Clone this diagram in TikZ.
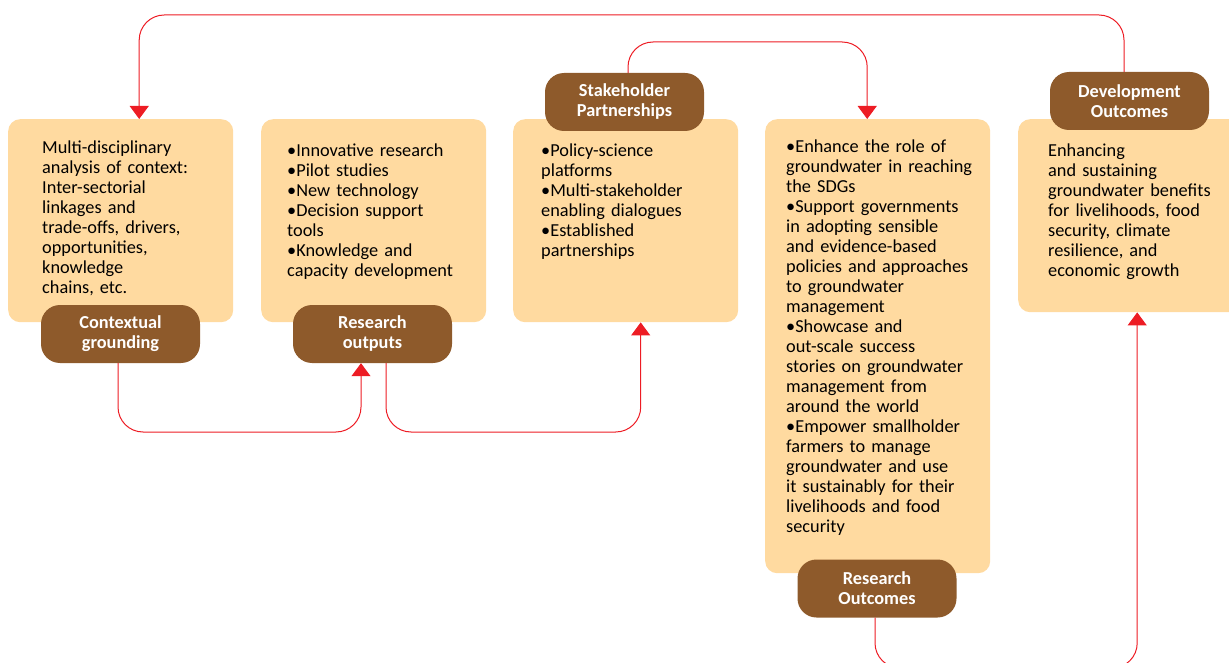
\documentclass[tikz,border=0pt]{standalone}
\usepackage{fontspec}
\setmainfont{Carlito}
\usetikzlibrary{arrows.meta,positioning}
\definecolor{boxfill}{HTML}{FFDAA0}
\definecolor{tagbrown}{HTML}{8E5A2B}
\definecolor{linkred}{HTML}{ED1C24}
\tikzset{
panel/.style={fill=boxfill,rounded corners=12pt,inner sep=0pt,anchor=north west,minimum width=225pt},
tag/.style={fill=tagbrown,text=white,font=\fontsize{18.3}{20}\selectfont\bfseries,rounded corners=19pt,minimum width=159pt,minimum height=58pt,align=center,inner sep=0pt},
body/.style={anchor=base west,align=left,inner sep=0pt,text width=#1,font=\fontsize{18.3}{20}\selectfont},
link/.style={draw=linkred,line width=1pt,rounded corners=25pt,-{Triangle[width=19pt,length=13pt]}}
}
\begin{document}
\begin{tikzpicture}[x=1pt,y=-1pt]
\useasboundingbox (0,0) rectangle (1229,663);
\clip (0,0) rectangle (1229,663);

\node[panel,minimum height=203pt] (ctxbox) at (8,119) {};
\node[panel,minimum height=203pt] (outbox) at (261,119) {};
\node[panel,minimum height=203pt] (partbox) at (513,119) {};
\node[panel,minimum height=454pt] (outcbox) at (765,119) {};
\node[panel,minimum height=193pt] (devbox) at (1018,119) {};

\node[body=190pt] (ctxtext) at (42,154) {Multi-disciplinary\\analysis of context:\\Inter-sectorial\\linkages and\\trade-offs, drivers,\\opportunities,\\knowledge\\chains, etc.};
\node[body=195pt] (outtext) at (287,157) {•Innovative research\\•Pilot studies\\•New technology\\•Decision support\\tools\\•Knowledge and\\capacity development};
\node[body=195pt] (parttext) at (541,157) {•Policy-science\\platforms\\•Multi-stakeholder\\enabling dialogues\\•Established\\partnerships};
\node[body=200pt] (outctext) at (786,153) {•Enhance the role of\\groundwater in reaching\\the SDGs\\•Support governments\\in adopting sensible\\and evidence-based\\policies and approaches\\to groundwater\\management\\•Showcase and\\out-scale success\\stories on groundwater\\management from\\around the world\\•Empower smallholder\\farmers to manage\\groundwater and use\\it sustainably for their\\livelihoods and food\\security};
\node[body=180pt] (devtext) at (1048,157) {Enhancing\\and sustaining\\groundwater benefits\\for livelihoods, food\\security, climate\\resilience, and\\economic growth};

\node[tag] (ctxtag) at (120.5,334) {Contextual\\grounding};
\node[tag] (outtag) at (372.5,334) {Research\\outputs};
\node[tag] (parttag) at (624.5,102) {Stakeholder\\Partnerships};
\node[tag] (outctag) at (877,588.5) {Research\\Outcomes};
\node[tag] (devtag) at (1129.5,101) {Development\\Outcomes};

\draw[link] ([xshift=-5.5pt]devtag.north) |- (600,15) -| ([xshift=18.5pt]ctxbox.north);
\draw[link] ([xshift=-2.5pt]ctxtag.south) |- (240,432) -| ([xshift=-11.5pt]outtag.south);
\draw[link] ([xshift=13.5pt]outtag.south) |- (500,432) -| ([xshift=15pt]partbox.south);
\draw[link] ([xshift=3.5pt]parttag.north) |- (750,42) -| ([xshift=-10.5pt]outcbox.north);
\draw[link] ([xshift=-2pt]outctag.south) |- (1000,668) -| ([xshift=6.5pt]devbox.south);
\end{tikzpicture}
\end{document}
